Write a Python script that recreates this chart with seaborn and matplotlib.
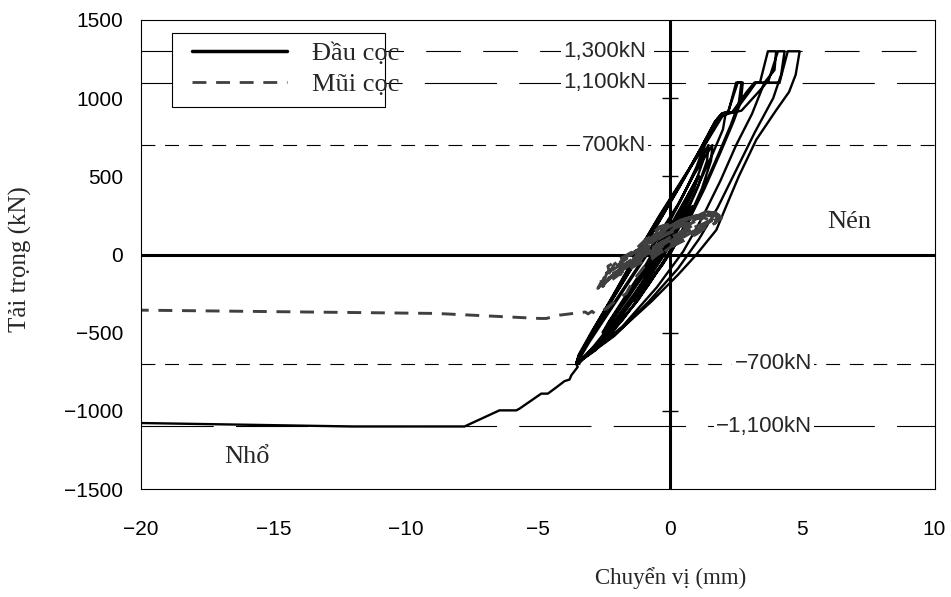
import matplotlib
matplotlib.use("Agg")
import matplotlib.pyplot as plt
import numpy as np
import pandas as pd
import seaborn as sns
from matplotlib.lines import Line2D
from matplotlib.patches import Rectangle

# Đầu cọc (pile head): displacement (mm) / load (kN), in drawing order
HEAD_X_300 = [0.0, 0.4, 0.8, 0.75, 0.3, -0.3, -0.9, -1.3, -1.2, -0.7, -0.1, 0.5, 0.85, 0.8, 0.3,
              -0.3, -1.0, -1.35, -1.25, -0.7, -0.1]
HEAD_Y_300 = [0, 130, 300, 230, 90, -60, -200, -300, -240, -100, 60, 230, 310, 240, 90,
              -70, -220, -300, -230, -80, 80]

HEAD_X_500 = [0.4, 0.9, 1.05, 0.6, 0.0, -0.8, -1.6, -2.5, -2.3, -1.6, -0.8, 0.0, 0.6, 1.0, 1.1,
              0.7, 0.1, -0.7, -1.6, -2.55, -2.35, -1.7, -0.9]
HEAD_Y_500 = [250, 420, 500, 350, 160, -60, -260, -500, -430, -260, -60, 180, 360, 480, 500,
              360, 170, -60, -280, -500, -440, -270, -60]

HEAD_X_700 = [-0.2, 0.5, 1.0, 1.3, 1.25, 0.9, 0.4, -0.2, -1.0, -2.0, -2.9, -3.45,
              -3.4, -3.05, -2.35, -1.45, -0.55, 0.35, 0.95, 1.45, 1.4, 1.05, 0.5, -0.1, -0.9, -1.9, -2.85, -3.5,
              -3.45, -3.1, -2.4, -1.5, -0.6, 0.3, 0.9, 1.6, 1.55, 1.2, 0.65, 0.0, -0.8, -1.8, -2.8, -3.55]
HEAD_Y_700 = [150, 380, 560, 700, 600, 430, 230, 40, -170, -400, -590, -700,
              -660, -560, -380, -150, 80, 330, 530, 700, 600, 430, 220, 30, -180, -410, -600, -700,
              -660, -560, -380, -150, 80, 320, 510, 700, 600, 420, 210, 20, -190, -420, -610, -700]

HEAD_X_900 = [-3.45, -3.0, -2.3, -1.5, -0.6, 0.3, 1.1, 1.7, 1.95, 2.1, 2.0, 1.6, 1.0, 0.4,
              -0.3, -1.3, -2.4, -3.55]
HEAD_Y_900 = [-650, -520, -320, -100, 160, 420, 660, 850, 900, 900, 800, 640, 420, 200,
              0, -260, -510, -700]

HEAD_X_1100 = [-3.45, -3.0, -2.3, -1.5, -0.6, 0.3, 1.1, 1.7, 1.95, 2.2, 2.56, 2.75, 2.68, 2.4, 1.9,
               1.3, 0.6, -0.2, -1.2, -2.4, -3.55,
               -3.45, -2.95, -2.25, -1.45, -0.55, 0.35, 1.15, 1.75, 2.0, 2.2, 2.5, 2.7, 2.6, 2.3, 1.8,
               1.2, 0.5, -0.3, -1.3, -2.5, -3.55]
HEAD_Y_1100 = [-650, -520, -320, -100, 160, 420, 660, 850, 900, 915, 1100, 1100, 980, 850, 650,
               420, 180, -40, -290, -540, -700,
               -650, -500, -300, -80, 170, 430, 670, 860, 905, 910, 1100, 1100, 970, 830, 630,
               400, 160, -60, -310, -550, -700]

HEAD_X_1300A = [-3.45, -2.95, -2.2, -1.4, -0.5, 0.4, 1.2, 1.8, 2.05, 2.35, 2.9, 3.19, 3.4, 3.70, 4.01,
                3.95, 3.57, 3.1, 2.5, 1.9, 1.2, 0.5, -0.5, -1.8, -3.55]
HEAD_Y_1300A = [-640, -490, -280, -50, 200, 450, 690, 870, 900, 910, 1040, 1100, 1100, 1300, 1300,
                1180, 1100, 900, 700, 470, 230, 20, -210, -460, -700]

HEAD_X_1300B = [-3.4, -2.9, -2.15, -1.35, -0.45, 0.45, 1.3, 1.9, 2.15, 2.45, 3.0, 3.25, 3.7, 4.08, 4.33,
                4.2, 3.9, 3.2, 2.5, 1.8, 1.1, 0.3, -0.8, -2.1, -3.55]
HEAD_Y_1300B = [-640, -480, -260, -20, 230, 470, 700, 880, 905, 915, 1040, 1100, 1100, 1300, 1300,
                1150, 1000, 780, 540, 300, 100, -90, -300, -520, -700]

HEAD_X_1300C = [-3.4, -2.85, -2.1, -1.3, -0.4, 0.5, 1.35, 2.0, 2.3, 2.7, 3.4, 3.65, 4.14, 4.45, 4.90,
                4.75, 4.5, 4.0, 3.26, 2.6, 2.2, 1.75, 1.0, 0.3, -0.7, -2.0, -3.55]
HEAD_Y_1300C = [-640, -470, -250, -10, 250, 490, 710, 890, 905, 920, 1050, 1100, 1100, 1300, 1300,
                1150, 1040, 920, 734, 500, 340, 157, 0, -130, -300, -500, -700]

HEAD_X_PULL = [-3.49, -3.73, -3.80, -3.99, -4.30, -4.62, -4.87, -5.69, -5.81, -6.45, -7.77, -12.0, -20.0]
HEAD_Y_PULL = [-719, -772, -800, -810, -850, -890, -890, -986, -997, -997, -1100, -1100, -1078]

# Mũi cọc (pile tip)
TIP_X_A = [-0.2, 0.5, 1.2, 1.6, 1.5, 1.0, 0.3, -0.5, -1.3, -1.9, -1.8, -1.2, -0.5, 0.2,
           0.9, 1.4, 1.8, 1.7, 1.1, 0.4, -0.4, -1.2, -2.0, -2.5, -2.4, -1.9, -1.2, -0.6, 0.1, 0.8]
TIP_Y_A = [20, 110, 180, 230, 190, 130, 70, 0, -70, -130, -80, 0, 100, 170,
           220, 260, 250, 200, 150, 100, 30, -40, -120, -180, -120, -50, 50, 150, 200, 230]

TIP_X_B = [1.37, 1.9, 1.94, 1.6, 1.0, 0.4, -0.3, -1.0, -1.8, -2.4, -2.73, -2.6, -2.62, -2.3,
           -2.35, -1.9, -1.4, -0.9, -0.4, 0.5, 1.1]
TIP_Y_B = [274, 260, 232, 190, 150, 120, 60, -10, -90, -160, -217, -175, -140, -110,
           -75, -30, 20, 90, 178, 221, 255]

TIP_X_C = [1.7, 1.3, 0.7, 0.0, -0.7, -1.5, -2.2, -2.6, -2.45, -2.0, -1.6, -1.0, -0.5, 0.2, 0.9, 1.5,
           1.85, 1.4, 0.8, 0.1, -0.6, -1.4, -2.1, -2.55, -2.3, -1.85, -1.3, -0.7, 0.0, 0.6, 1.2]
TIP_Y_C = [245, 200, 160, 110, 40, -50, -140, -190, -130, -80, -20, 60, 140, 200, 240, 265,
           240, 180, 140, 90, 20, -60, -150, -205, -150, -90, -10, 80, 160, 210, 240]

TIP_X_D = [1.6, 1.1, 0.5, -0.2, -0.9, -1.6, -2.2, -2.0, -1.5, -0.8, -0.2, 0.5, 1.0]
TIP_Y_D = [215, 165, 120, 70, 0, -70, -125, -70, -10, 70, 150, 195, 215]

TIP_X_E = [-1.0, -0.3, 0.4, 1.0, 1.3, 0.8, 0.2, -0.5, -1.2, -1.9, -2.3, -2.1, -1.5, -0.8, -0.1,
           0.6, 1.2, 1.7, 1.9, 1.4, 0.8, 0.2, -0.5, -1.2, -1.8, -2.4]
TIP_Y_E = [60, 150, 220, 250, 240, 180, 130, 60, -10, -80, -120, -60, 0, 80, 170,
           230, 260, 270, 245, 200, 160, 110, 40, -30, -100, -170]

TIP_X_PULL = [-1.9, -1.2, -0.5, 0.2, 0.8, 1.2, 0.5, -0.2, -0.9, -1.4, -1.66, -2.03, -2.45, -2.85,
              -2.95, -3.1, -3.2, -3.42, -4.18, -4.68, -4.93, -8.84, -20.0]
TIP_Y_PULL = [-90, 0, 90, 170, 200, 160, 100, 40, -60, -170, -250, -292, -350, -377,
              -363, -380, -368, -372, -388, -409, -409, -377, -356]

# reference load levels and their labels
REF_LOADS = [1300, 1100, 700, -700, -1100]
REF_TEXT = ["1,300kN", "1,100kN", "700kN", "\u2212700kN", "\u22121,100kN"]
AXIS_TICKS = [-1000, -500, 500, 1000]

X_TICKS = [-20, -15, -10, -5, 0, 5, 10]
Y_TICKS = [-1500, -1000, -500, 0, 500, 1000, 1500]


def path(xs_list, ys_list):
    xs, ys = [], []
    for x, y in zip(xs_list, ys_list):
        xs += x
        ys += y
    return pd.DataFrame({"x": xs, "y": ys})


head = path([HEAD_X_300, HEAD_X_500, HEAD_X_700, HEAD_X_900, HEAD_X_1100, HEAD_X_1300A,
             HEAD_X_1300B, HEAD_X_1300C, HEAD_X_PULL],
            [HEAD_Y_300, HEAD_Y_500, HEAD_Y_700, HEAD_Y_900, HEAD_Y_1100, HEAD_Y_1300A,
             HEAD_Y_1300B, HEAD_Y_1300C, HEAD_Y_PULL])
tip = path([TIP_X_A, TIP_X_B, TIP_X_C, TIP_X_D, TIP_X_E, TIP_X_PULL],
           [TIP_Y_A, TIP_Y_B, TIP_Y_C, TIP_Y_D, TIP_Y_E, TIP_Y_PULL])

sns.set_theme(style="white")
plt.rcParams["font.family"] = ["Liberation Sans", "DejaVu Sans"]
plt.rcParams["lines.scale_dashes"] = False
SERIF = ["Liberation Serif", "DejaVu Serif"]

fig = plt.figure(figsize=(9.51, 5.97), dpi=100)
ax = fig.add_axes([0.1483, 0.1809, 0.8344, 0.7856])

ref_style = {1300: (0, (25, 16)), 1100: (0, (52, 16)), 700: (0, (10, 7)),
             -700: (0, (10, 7)), -1100: (0, (52, 16))}
for load, txt in zip(REF_LOADS, REF_TEXT):
    ax.axhline(load, color="black", lw=0.8, linestyle=ref_style[load], zorder=1)
    tx = -0.9 if load > 0 else 5.37
    ax.text(tx, load, txt, ha="right", va="center", fontsize=16, zorder=3,
            bbox=dict(boxstyle="square,pad=0.1", fc="white", ec="none"))

ax.axhline(0, color="black", lw=2.2, zorder=1.5)
ax.axvline(0, color="black", lw=2.2, zorder=1.5)
ax.plot(np.zeros(len(AXIS_TICKS)), AXIS_TICKS, ls="none", marker="_", ms=11, mew=1.0,
        color="black", zorder=1.5)

sns.lineplot(data=head, x="x", y="y", sort=False, estimator=None, color="black",
             lw=1.7, ax=ax, zorder=2)
sns.lineplot(data=tip, x="x", y="y", sort=False, estimator=None, color="#404040",
             lw=2.1, linestyle=(0, (10, 7)), ax=ax, zorder=2.2)

ax.set_xlim(-20, 10)
ax.set_ylim(-1500, 1500)
ax.set_xticks(X_TICKS)
ax.set_yticks(Y_TICKS)
ax.tick_params(axis="both", length=0, labelsize=15, colors="black")
ax.tick_params(axis="x", pad=22)
ax.tick_params(axis="y", pad=13)
ax.set_xlabel("")
ax.set_ylabel("")
for sp in ax.spines.values():
    sp.set_visible(True)
    sp.set_color("black")
    sp.set_linewidth(0.8)

ax.text(0.667, -0.19, "Chuyển vị (mm)", transform=ax.transAxes, ha="center", va="center",
        fontsize=16.5, family=SERIF)
ax.text(-0.1525, 0.49, "Tải trọng (kN)", transform=ax.transAxes, ha="center", va="center",
        rotation=90, fontsize=18, family=SERIF)
ax.text(5.95, 170, "Nén", ha="left", va="baseline", fontsize=19, family=SERIF)
ax.text(-16.84, -1336, "Nhổ", ha="left", va="baseline", fontsize=19, family=SERIF)

# legend box (text runs past the frame as in the original)
ax.add_patch(Rectangle((0.039, 0.8145), 0.2685, 0.158, transform=ax.transAxes,
                       fc="white", ec="black", lw=0.8, zorder=5))
handles = [Line2D([], [], color="black", lw=2.5),
           Line2D([], [], color="#404040", lw=2.0, linestyle=(0, (10, 7)))]
leg = ax.legend(handles, ["Đầu cọc", "Mũi cọc"], loc="upper left",
                bbox_to_anchor=(0.0643, 0.954), frameon=False, borderpad=0,
                borderaxespad=0, handlelength=3.6, handletextpad=0.95, labelspacing=0.3,
                prop={"family": SERIF, "size": 19})
leg.set_zorder(6)

fig.savefig("out.png", dpi=100)
